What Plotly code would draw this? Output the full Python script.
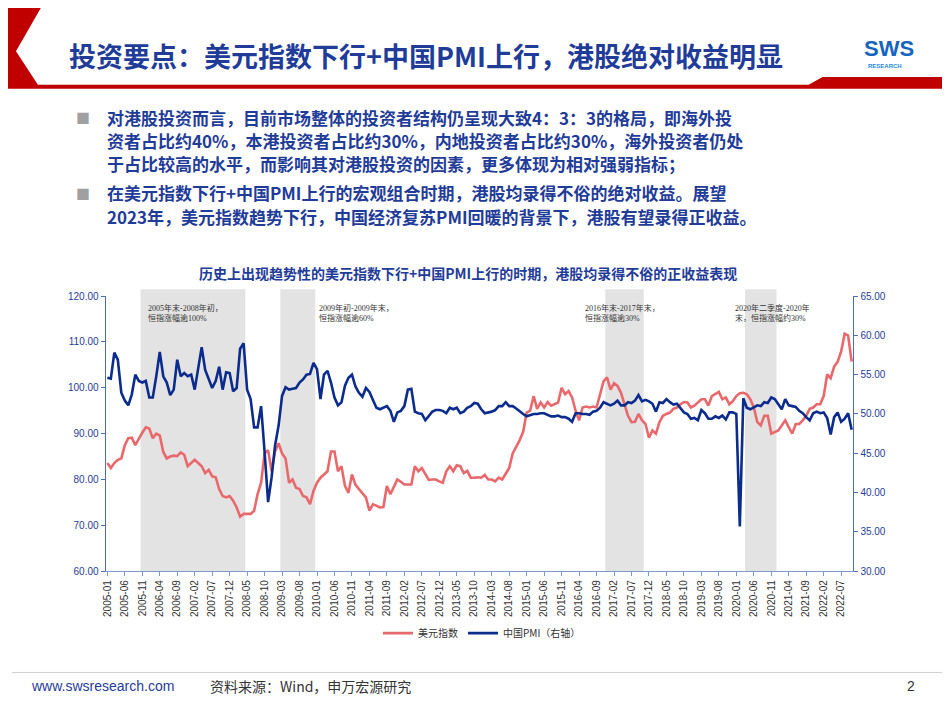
import plotly.graph_objects as go
import pandas as pd

months = pd.period_range("2005-01", "2022-10", freq="M").strftime("%Y-%m").tolist()

usd_index = [83.6,82.5,83.6,84.3,84.6,87.5,89,89.1,87.5,89,90.2,91.4,
 91.1,89,90,89.6,86,84.6,85,85.2,85.1,85.9,85.4,82.9,
 83.6,84.3,83.6,82.9,81.4,82.1,80.7,80.5,77.9,76.4,76.1,76.4,
 75.4,73.9,71.9,72.5,72.5,72.5,73.2,76.8,79.3,85.7,86.4,81.8,
 86.1,87.9,85.7,84.6,79.3,80,78.2,77.9,76.4,76.1,74.6,77.5,
 79.3,80.4,81.1,81.8,86.1,86.1,81.8,82.9,78.6,77.1,81.1,78.9,
 77.9,77.1,76.1,73.2,74.6,74.3,73.9,74,78.6,76.8,78.6,80,
 79.5,78.9,78.9,78.9,82.9,81.8,82.5,81.1,79.9,80,80,79.6,
 79.3,81.8,82.9,81.8,83.1,82.9,81.4,81.9,80.4,80.4,80.5,80.4,
 81,80,80,79.6,80.4,80,81.4,82.5,85.7,87.1,88.6,90.4,
 94.6,95,98.2,95.4,96.8,95.7,96.9,96.1,96.4,96.8,100,98.6,
 99.3,97.9,95,92.9,95.7,95.9,95.7,95.9,95.7,98.6,101.4,102.3,
 99.6,101,100.4,98.9,96.4,93.9,92.5,92.6,94.3,92.9,92.1,89.1,
 90.7,90,92.5,93.9,94.3,94.6,95.4,95.7,96.4,96.9,96.8,95.7,
 96.1,96.8,97.5,97.5,96.1,98.2,98.6,99.1,97.5,97.9,96.4,97.1,
 98.2,98.8,98.9,98.6,97.5,95.7,92.5,91.8,93.9,93.9,90,90.4,
 90.7,91.8,92.9,91.4,90,92.1,92.1,92.9,93.9,95.4,95.7,96.4,
 96.4,98.2,102.9,102.1,104.6,105.7,107.9,111.8,111.4,105.7]

china_pmi = [54.6,54.5,57.8,56.9,52.7,51.7,51.1,52.5,55,54.2,54,54.2,
 52.1,52.1,54.8,57.9,54.8,54,52.4,53.1,56.9,54.8,55.2,54.8,
 55,53.1,55.8,58.5,55.6,54.4,53.3,54.2,56,53.1,55.3,55.2,
 52.9,53.3,58.3,59,53.1,51.9,48.3,48.3,51,45.2,38.8,41.9,
 46,48.5,52.3,53.4,53.1,53.2,53.3,54,54.4,55,55.1,56.5,
 55.7,51.9,55,55.5,54,52.1,51.1,51.5,53.6,54.6,55,53.5,
 52.7,52.2,53.3,52.8,51.9,50.8,50.6,50.8,51,50.4,49,50.2,
 50.4,51,53.1,53.2,50.3,50.1,50,49.2,49.8,50.3,50.5,50.5,
 50.4,50.1,50.8,50.6,50.8,50.1,50.3,50.8,51,51.4,51.3,50.6,
 50.1,50.2,50.3,50.5,51,51,51.5,51,51,50.7,50.3,50,
 49.7,49.9,50,50,50.1,50.1,49.9,49.7,49.7,49.8,49.6,49.6,
 49.4,49,50.1,50.1,50,50,49.9,50.3,50.4,50.8,51.5,51.3,
 51.1,51.3,51.7,51.1,51.1,51.5,51.4,51.7,52.4,51.6,51.8,51.6,
 51.3,50.3,51.5,51.4,51.9,51.5,51.2,51.3,50.8,50.2,50,49.4,
 49.5,49.2,50.5,50.1,49.4,49.4,49.7,49.5,49.8,49.3,50.2,50.2,
 50,35.7,52,50.8,50.6,50.9,51.1,51,51.5,51.4,52.1,51.9,
 51.3,50.6,51.9,51.1,51,50.9,50.4,50.1,49.6,49.2,50.1,50.3,
 50.1,50.2,49.5,47.4,49.6,50.2,49,49.4,50.1,48]

shade_periods = [("2005-11", "2008-04"), ("2009-03", "2009-12"),
                 ("2016-12", "2017-10"), ("2020-04", "2020-12")]
shade_notes = [("2005-11", "2005年末-2008年初，<br>恒指涨幅逾100%"),
               ("2009-12", "2009年初-2009年末，<br>恒指涨幅逾60%"),
               ("2016-04", "2016年末-2017年末，<br>恒指涨幅逾30%"),
               ("2019-11", "2020年二季度-2020年<br>末，恒指涨幅约30%")]
tick_labels = months[::5]

W, H = 934, 697
OFF = 8
def px(x): return (x - OFF) / W
def py(y): return 1 - (y - OFF) / H

RED = "#E8686B"
BLUE = "#0B2C8C"
TXT = "#1F3C99"

idx = list(range(len(months)))
fig = go.Figure()
fig.add_trace(go.Scatter(x=idx, y=usd_index, mode="lines", name="美元指数",
                         line=dict(color=RED, width=2.6)))
fig.add_trace(go.Scatter(x=idx, y=china_pmi, mode="lines", name="中国PMI（右轴）",
                         line=dict(color=BLUE, width=2.6), yaxis="y2"))

shapes = []
for a, b in shade_periods:
    shapes.append(dict(type="rect", xref="x", yref="paper", layer="below",
                       x0=months.index(a) - 0.5, x1=months.index(b) + 0.5,
                       y0=py(575), y1=py(288), fillcolor="#E3E3E3", line_width=0))
shapes.append(dict(type="path", xref="paper", yref="paper", fillcolor="#C00000", line_width=0,
                   path=f"M {px(0)},{py(0)} L {px(38)},{py(0)} L {px(12)},{py(46)} L {px(34)},{py(80)} "
                        f"L {px(808)},{py(80)} L {px(822)},{py(72)} L {px(958)},{py(72)} L {px(958)},{py(84)} "
                        f"L {px(0)},{py(84)} Z"))
shapes.append(dict(type="line", xref="paper", yref="paper", x0=0, x1=1, y0=py(678), y1=py(678),
                   line=dict(color="#D0D0D0", width=1)))

ann = []
def A(x, y, text, size, color, family="Noto Sans CJK SC", xanchor="left", xref="paper", yanchor="middle", align="left"):
    ann.append(dict(x=x if xref == "x" else px(x), y=py(y), xref=xref, yref="paper", text=text,
                    showarrow=False, xanchor=xanchor, yanchor=yanchor, align=align,
                    font=dict(family=family, size=size, color=color)))

for m, t in shade_notes:
    A(months.index(m) + 1, 300, t, 8, "#333", "Liberation Serif, Noto Sans CJK SC", xref="x", yanchor="top")
A(63, 50, "<b>投资要点：美元指数下行+中国PMI上行，港股绝对收益明显</b>", 27, TXT)
A(862, 43, "<b>SWS</b>", 22, "#1565C0", "Liberation Sans")
A(866, 61, "<b>RESEARCH</b>", 6, "#1E88E5", "Liberation Sans")
bullets = [(113, "对港股投资而言，目前市场整体的投资者结构仍呈现大致4：3：3的格局，即海外投"),
           (137, "资者占比约40%，本港投资者占比约30%，内地投资者占比约30%，海外投资者仍处"),
           (160, "于占比较高的水平，而影响其对港股投资的因素，更多体现为相对强弱指标；"),
           (190, "在美元指数下行+中国PMI上行的宏观组合时期，港股均录得不俗的绝对收益。展望"),
           (214, "2023年，美元指数趋势下行，中国经济复苏PMI回暖的背景下，港股有望录得正收益。")]
for y, t in bullets:
    A(101, y, f"<b>{t}</b>", 17, TXT)
for y in (113, 190):
    A(70, y, "■", 14, "#A0A0A0")
A(466, 272, "<b>历史上出现趋势性的美元指数下行+中国PMI上行的时期，港股均录得不俗的正收益表现</b>",
  14, TXT, xanchor="center")
A(25, 692, "www.swsresearch.com", 14, TXT, "Liberation Sans")
A(205, 692, "资料来源：Wind，申万宏源研究", 14, "#333")
A(905, 692, "2", 14, "#333", "Liberation Sans")

fig.update_layout(
    width=W, height=H, autosize=False, margin=dict(l=0, r=0, t=0, b=0),
    paper_bgcolor="white", plot_bgcolor="rgba(0,0,0,0)",
    shapes=shapes, annotations=ann,
    font=dict(family="Liberation Sans", color="#333"),
    xaxis=dict(domain=[px(102), px(853)], range=[-0.5, len(months) - 0.5],
               tickvals=[months.index(t) for t in tick_labels], ticktext=tick_labels,
               tickangle=-90, tickfont=dict(size=10), showgrid=False, zeroline=False,
               showline=True, linecolor="#7F9CC8", ticks="outside", ticklen=4, tickcolor="#7F9CC8"),
    yaxis=dict(domain=[py(575), py(295)], range=[60, 120], dtick=10, tickformat=".2f",
               showgrid=False, zeroline=False, showline=True, linecolor="#4A6FB5",
               ticks="outside", ticklen=4, tickcolor="#4A6FB5",
               tickfont=dict(size=10, color=TXT)),
    yaxis2=dict(overlaying="y", side="right", anchor="x", range=[30, 65], dtick=5, tickformat=".2f",
                showgrid=False, zeroline=False, showline=True, linecolor="#4A6FB5",
                ticks="outside", ticklen=4, tickcolor="#4A6FB5",
                tickfont=dict(size=10, color=TXT)),
    legend=dict(orientation="h", x=px(480), xanchor="center", y=py(638), yanchor="middle",
                font=dict(family="Noto Sans CJK SC", size=10, color="#333"), bgcolor="rgba(0,0,0,0)"),
)
fig.write_html("out.html")
